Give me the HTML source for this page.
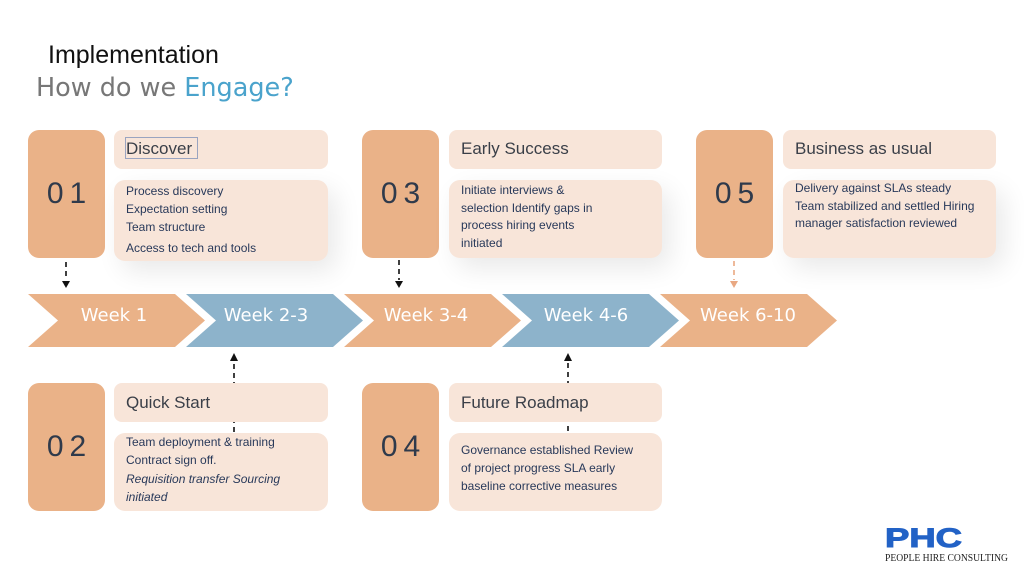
<!DOCTYPE html>
<html><head><meta charset="utf-8"><style>
*{margin:0;padding:0;box-sizing:border-box}
html,body{width:1024px;height:576px;background:#fff;overflow:hidden}
body{position:relative;font-family:"Liberation Sans",sans-serif}
.abs{position:absolute}
.num{position:absolute;width:77px;height:128px;background:#eab288;border-radius:11px;display:flex;align-items:center;justify-content:center;font-size:30px;color:#2f3a4b;letter-spacing:6px;padding-left:6px}
.tbox{position:absolute;width:214px;height:39px;background:#f8e5d9;border-radius:8px}
.bbox{position:absolute;width:214px;background:#f8e5d9;border-radius:11px;box-shadow:8px 10px 26px rgba(0,0,0,0.09)}
.ttl{position:absolute;font-size:17px;color:#3a3f48;white-space:nowrap;line-height:20px}
.txt{position:absolute;font-size:12px;color:#28395a;white-space:nowrap}
.wk{position:absolute;font-family:"DejaVu Sans",sans-serif;font-size:18px;color:#fff;white-space:nowrap;line-height:20px;transform:translateX(-50%)}
</style></head><body>

<div class="abs" style="left:48px;top:40px;font-size:25px;color:#111;line-height:30px">Implementation</div>
<div class="abs" style="left:36px;top:73px;font-family:'DejaVu Sans',sans-serif;font-size:25.5px;color:#777;line-height:30px;white-space:nowrap">How do we <span style="color:#4aa3cc">Engage?</span></div>

<svg class="abs" style="left:0;top:0" width="1024" height="576">
  <g stroke="#111" stroke-width="1.6" stroke-dasharray="5,4" fill="none">
    <line x1="66" y1="262" x2="66" y2="280"/>
    <line x1="399" y1="260" x2="399" y2="280"/>
    <line x1="234" y1="364" x2="234" y2="440"/>
    <line x1="568" y1="363" x2="568" y2="440"/>
  </g>
  <line x1="734" y1="261" x2="734" y2="280" stroke="#e9a882" stroke-width="1.6" stroke-dasharray="5,4"/>
  <polygon points="62,281 70,281 66,288" fill="#111"/>
  <polygon points="395,281 403,281 399,288" fill="#111"/>
  <polygon points="730,281 738,281 734,288" fill="#e9a882"/>
  <polygon points="230,361 238,361 234,353" fill="#111"/>
  <polygon points="564,361 572,361 568,353" fill="#111"/>
  <polygon points="28,294 175,294 205,320.5 175,347 28,347 58,320.5" fill="#eab288"/>
  <polygon points="186,294 333,294 363,320.5 333,347 186,347 216,320.5" fill="#8db3cb"/>
  <polygon points="344,294 491,294 521,320.5 491,347 344,347 374,320.5" fill="#eab288"/>
  <polygon points="502,294 649,294 679,320.5 649,347 502,347 532,320.5" fill="#8db3cb"/>
  <polygon points="660,294 807,294 837,320.5 807,347 660,347 690,320.5" fill="#eab288"/>
</svg>

<div class="wk" style="left:114px;top:306px">Week 1</div>
<div class="wk" style="left:266px;top:306px">Week 2-3</div>
<div class="wk" style="left:426px;top:306px">Week 3-4</div>
<div class="wk" style="left:586px;top:306px">Week 4-6</div>
<div class="wk" style="left:748px;top:306px">Week 6-10</div>

<!-- 01 -->
<div class="num" style="left:28px;top:130px">01</div>
<div class="tbox" style="left:114px;top:130px"></div>
<div class="abs" style="left:125px;top:137px;width:73px;height:22px;border:1px solid #9aa4c0"></div>
<div class="ttl" style="left:126px;top:139px">Discover</div>
<div class="bbox" style="left:114px;top:180px;height:81px"></div>
<div class="txt" style="left:126px;top:182px;line-height:18px">Process discovery<br>Expectation setting<br>Team structure<br><div style="margin-top:3px">Access to tech and tools</div></div>

<!-- 03 -->
<div class="num" style="left:362px;top:130px">03</div>
<div class="tbox" style="left:449px;top:130px;width:213px"></div>
<div class="ttl" style="left:461px;top:139px">Early Success</div>
<div class="bbox" style="left:449px;top:180px;height:78px;width:213px"></div>
<div class="txt" style="left:461px;top:182px;line-height:17.5px">Initiate interviews &amp;<br>selection Identify gaps in<br>process hiring events<br>initiated</div>

<!-- 05 -->
<div class="num" style="left:696px;top:130px">05</div>
<div class="tbox" style="left:783px;top:130px;width:213px"></div>
<div class="ttl" style="left:795px;top:139px">Business as usual</div>
<div class="bbox" style="left:783px;top:180px;height:78px;width:213px"></div>
<div class="txt" style="left:795px;top:180px;line-height:17.5px">Delivery against SLAs steady<br>Team stabilized and settled Hiring<br>manager satisfaction reviewed</div>

<!-- 02 -->
<div class="num" style="left:28px;top:383px">02</div>
<div class="tbox" style="left:114px;top:383px"></div>
<div class="ttl" style="left:126px;top:393px">Quick Start</div>
<div class="bbox" style="left:114px;top:433px;height:78px;box-shadow:none"></div>
<div class="txt" style="left:126px;top:434px;line-height:17.5px">Team deployment &amp; training<br>Contract sign off.<br><div style="margin-top:2px;font-style:italic">Requisition transfer Sourcing<br>initiated</div></div>

<!-- 04 -->
<div class="num" style="left:362px;top:383px">04</div>
<div class="tbox" style="left:449px;top:383px;width:213px"></div>
<div class="ttl" style="left:461px;top:393px">Future Roadmap</div>
<div class="bbox" style="left:449px;top:433px;height:78px;width:213px;box-shadow:none"></div>
<div class="txt" style="left:461px;top:441px;line-height:18px">Governance established Review<br>of project progress SLA early<br>baseline corrective measures</div>

<!-- logo -->
<svg class="abs" style="left:0;top:0" width="1024" height="576">
  <text x="885" y="547" font-family="Liberation Sans" font-weight="bold" font-size="27" fill="#2262c6" stroke="#2262c6" stroke-width="1" textLength="77" lengthAdjust="spacingAndGlyphs">PHC</text>
  <text x="885" y="561" font-family="Liberation Serif" font-size="10.5" fill="#222" textLength="123" lengthAdjust="spacingAndGlyphs">PEOPLE HIRE CONSULTING</text>
</svg>

</body></html>
